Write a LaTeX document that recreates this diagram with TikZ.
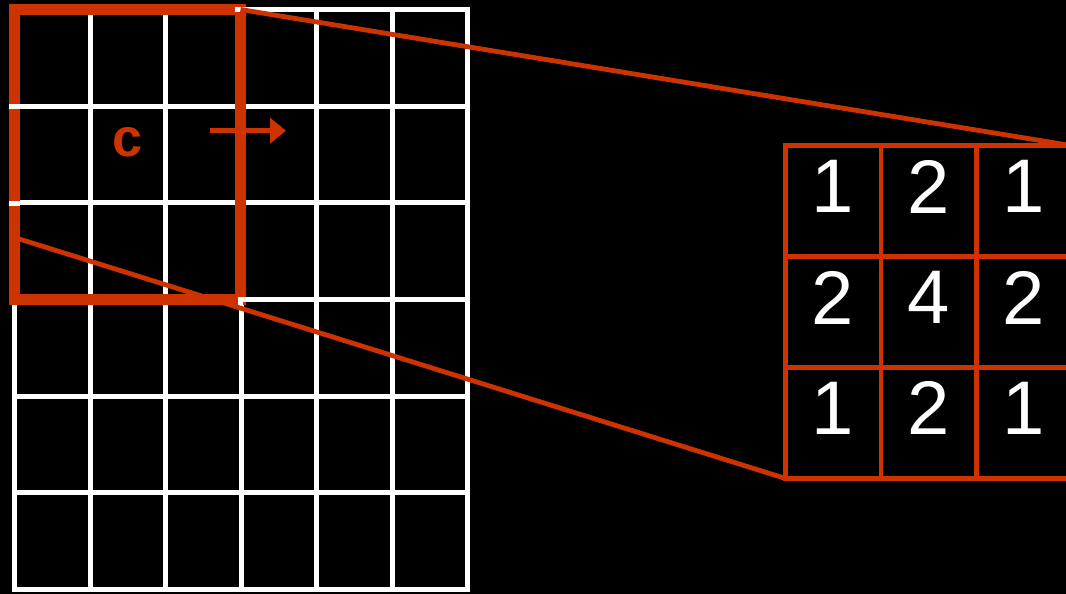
\documentclass[tikz,border=0pt]{standalone}
\usepackage{fontspec}
\setmainfont{Liberation Sans}
\usetikzlibrary{arrows.meta}
\definecolor{kred}{RGB}{204,51,0}
\begin{document}
\begin{tikzpicture}[x=1pt, y=-1pt,
  gridline/.style={draw=white, line width=5pt, line cap=rect},
  winbox/.style={minimum width=226pt, minimum height=290pt, inner sep=0pt, outer sep=0pt},
  kcell/.style={draw=kred, line width=4.6pt, minimum width=95.5pt, minimum height=110.9pt, inner sep=0pt, outer sep=0pt},
  digit/.style={text=white, font=\fontsize{76}{76}\selectfont, inner sep=0pt},
  link/.style={draw=kred, line width=4.8pt}]
\useasboundingbox (0,0) rectangle (1066,594);
\clip (0,0) rectangle (1066,594);
\fill[black] (0,0) rectangle (1066,594);
% input grid
\foreach \i in {0,...,6} {
  \draw[gridline] (14.5+75.5*\i,9.5) -- (14.5+75.5*\i,589.5);
  \draw[gridline] (14.5,9.5+96.667*\i) -- (467.5,9.5+96.667*\i);
}
\node[winbox] (win) at (127.5,154.5) {};
\draw[kred, line width=11pt] (win.south west) rectangle (win.north east);
\draw[gridline, line cap=butt] (235,9.5) -- (246,9.5);
\draw[gridline, line cap=butt] (240.5,297) -- (240.5,305) (238,299.5) -- (246,299.5);
\foreach \y in {106.5,203.5}
  \draw[gridline, line cap=butt] (9,\y) -- (20,\y);
% kernel
\foreach \row [count=\r] in {{1,2,1},{2,4,2},{1,2,1}}
  \foreach \v [count=\c] in \row {
    \node[kcell] (k-\r-\c) at (737.55+95.5*\c, 90.25+110.9*\r) {};
    \node[digit] (d-\r-\c) at ([yshift=14.5pt]k-\r-\c.center) {\v};
  }
\coordinate (tail) at (14.5,237.5);
\draw[link] (win.north east) -- (k-1-3.north east);
\draw[link] (tail) -- (k-3-1.south west);
\coordinate (slide-a) at (210,130.7);
\coordinate (slide-b) at (286,130.7);
\draw[kred, line width=5pt, -{Triangle[length=16pt,width=25pt]}] (slide-a) -- (slide-b);
\node[text=kred, font=\fontsize{54}{54}\selectfont\bfseries, inner sep=0pt] (mark-c) at (128,142.5) {c};
\end{tikzpicture}
\end{document}
